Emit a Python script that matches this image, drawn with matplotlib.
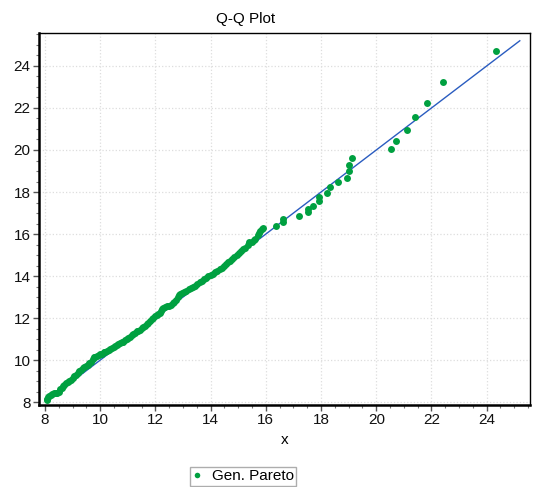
import numpy as np
import matplotlib
matplotlib.use("Agg")
import matplotlib.pyplot as plt
from matplotlib.ticker import MultipleLocator

# quantile pairs (x = sample, y = Gen. Pareto quantile)
sample_x = [
    8.06, 8.08, 8.11, 8.15, 8.20, 8.26, 8.32, 8.38, 8.44, 8.50,
    8.55, 8.60, 8.65, 8.70, 8.76, 8.82, 8.88, 8.94, 9.00, 9.06,
    9.12, 9.18, 9.24, 9.30, 9.36, 9.42, 9.48, 9.54, 9.60, 9.66,
    9.72, 9.76, 9.82, 9.88, 9.94, 10.00, 10.06, 10.12, 10.18, 10.24,
    10.30, 10.36, 10.42, 10.48, 10.54, 10.60, 10.66, 10.72, 10.78, 10.84,
    10.90, 10.96, 11.02, 11.08, 11.14, 11.20, 11.26, 11.32, 11.38, 11.44,
    11.50, 11.56, 11.62, 11.68, 11.74, 11.80, 11.86, 11.92, 11.98, 12.04,
    12.10, 12.16, 12.20, 12.24, 12.28, 12.33, 12.40, 12.48, 12.56, 12.62,
    12.68, 12.74, 12.80, 12.85, 12.90, 12.96, 13.04, 13.12, 13.20, 13.28,
    13.36, 13.44, 13.52, 13.60, 13.68, 13.76, 13.84, 13.92, 14.00, 14.08,
    14.16, 14.24, 14.32, 14.40, 14.48, 14.56, 14.62, 14.70, 14.78, 14.86,
    14.94, 15.02, 15.10, 15.18, 15.26, 15.34, 15.40, 15.48, 15.56, 15.62,
    15.70, 15.74, 15.80, 15.86, 15.90,
    16.37, 16.61, 16.61, 17.19, 17.51, 17.51, 17.71, 17.91, 17.91, 18.21,
    18.31, 18.62, 18.94, 19.03, 19.03, 19.11, 20.54, 20.71, 21.10, 21.42,
    21.82, 22.40, 24.32,
]
sample_y = [
    8.10, 8.16, 8.22, 8.28, 8.33, 8.38, 8.41, 8.42, 8.44, 8.50,
    8.60, 8.68, 8.75, 8.83, 8.90, 8.96, 9.00, 9.06, 9.15, 9.24,
    9.31, 9.38, 9.47, 9.54, 9.60, 9.66, 9.72, 9.78, 9.84, 9.92,
    10.05, 10.13, 10.16, 10.18, 10.22, 10.27, 10.31, 10.36, 10.40, 10.44,
    10.48, 10.53, 10.58, 10.62, 10.66, 10.70, 10.75, 10.79, 10.84, 10.88,
    10.94, 11.00, 11.06, 11.12, 11.19, 11.25, 11.30, 11.36, 11.40, 11.45,
    11.51, 11.57, 11.63, 11.70, 11.78, 11.86, 11.94, 12.02, 12.08, 12.13,
    12.18, 12.22, 12.32, 12.42, 12.50, 12.54, 12.56, 12.58, 12.64, 12.70,
    12.78, 12.88, 12.98, 13.08, 13.16, 13.19, 13.24, 13.30, 13.36, 13.42,
    13.48, 13.54, 13.62, 13.70, 13.77, 13.84, 13.92, 14.00, 14.06, 14.12,
    14.18, 14.26, 14.34, 14.40, 14.46, 14.58, 14.66, 14.72, 14.80, 14.90,
    15.00, 15.08, 15.18, 15.28, 15.34, 15.48, 15.60, 15.64, 15.70, 15.78,
    15.95, 16.05, 16.15, 16.24, 16.28,
    16.40, 16.59, 16.70, 16.87, 17.05, 17.17, 17.33, 17.57, 17.76, 17.97,
    18.22, 18.46, 18.68, 18.98, 19.27, 19.62, 20.03, 20.44, 20.97, 21.56,
    22.25, 23.25, 24.71,
]
ref_line = [8.05, 25.2]
x_ticks = [8, 10, 12, 14, 16, 18, 20, 22, 24]
y_ticks = [8, 10, 12, 14, 16, 18, 20, 22, 24]

plt.rcParams['font.family'] = ['Liberation Sans', 'DejaVu Sans']

fig = plt.figure(figsize=(5.37, 4.87), dpi=100)
ax = fig.add_axes([39 / 537, 1 - 405 / 487, 491 / 537, 372 / 487])

ax.plot(ref_line, ref_line, color='#2a5cc0', lw=1.0, zorder=2)
ax.plot(sample_x, sample_y, 'o', color='#00a040', ms=5.0, mew=0,
        label='Gen. Pareto', zorder=3)

ax.set_xlim(7.78, 25.57)
ax.set_ylim(7.86, 25.57)
ax.set_xticks(x_ticks)
ax.set_yticks(y_ticks)
ax.xaxis.set_minor_locator(MultipleLocator(0.5))
ax.yaxis.set_minor_locator(MultipleLocator(0.5))
ax.tick_params(which='major', direction='out', length=4, width=1,
               color='#555555', labelsize=11, labelcolor='#111111', pad=2)
ax.tick_params(which='minor', direction='out', length=2.5, width=0.8,
               color='#777777')
ax.grid(True, which='major', color='#dddddd', ls=':', lw=0.9)
ax.set_axisbelow(True)

for side in ['left', 'bottom']:
    ax.spines[side].set_linewidth(1.8)
for side in ['top', 'right']:
    ax.spines[side].set_linewidth(1.0)

ax.set_xlabel('x', fontsize=11, labelpad=4)
fig.text(246 / 537, 1 - 19 / 487, 'Q-Q Plot', ha='center', va='center',
         fontsize=11)

fig.legend(loc='upper left', bbox_to_anchor=(190 / 537, 1 - 467 / 487),
           fontsize=11, frameon=True, fancybox=False, edgecolor='#999999',
           handlelength=0.6, handletextpad=0.7, borderpad=0.15,
           borderaxespad=0, markerscale=0.8)

fig.savefig('out.png', dpi=100)
